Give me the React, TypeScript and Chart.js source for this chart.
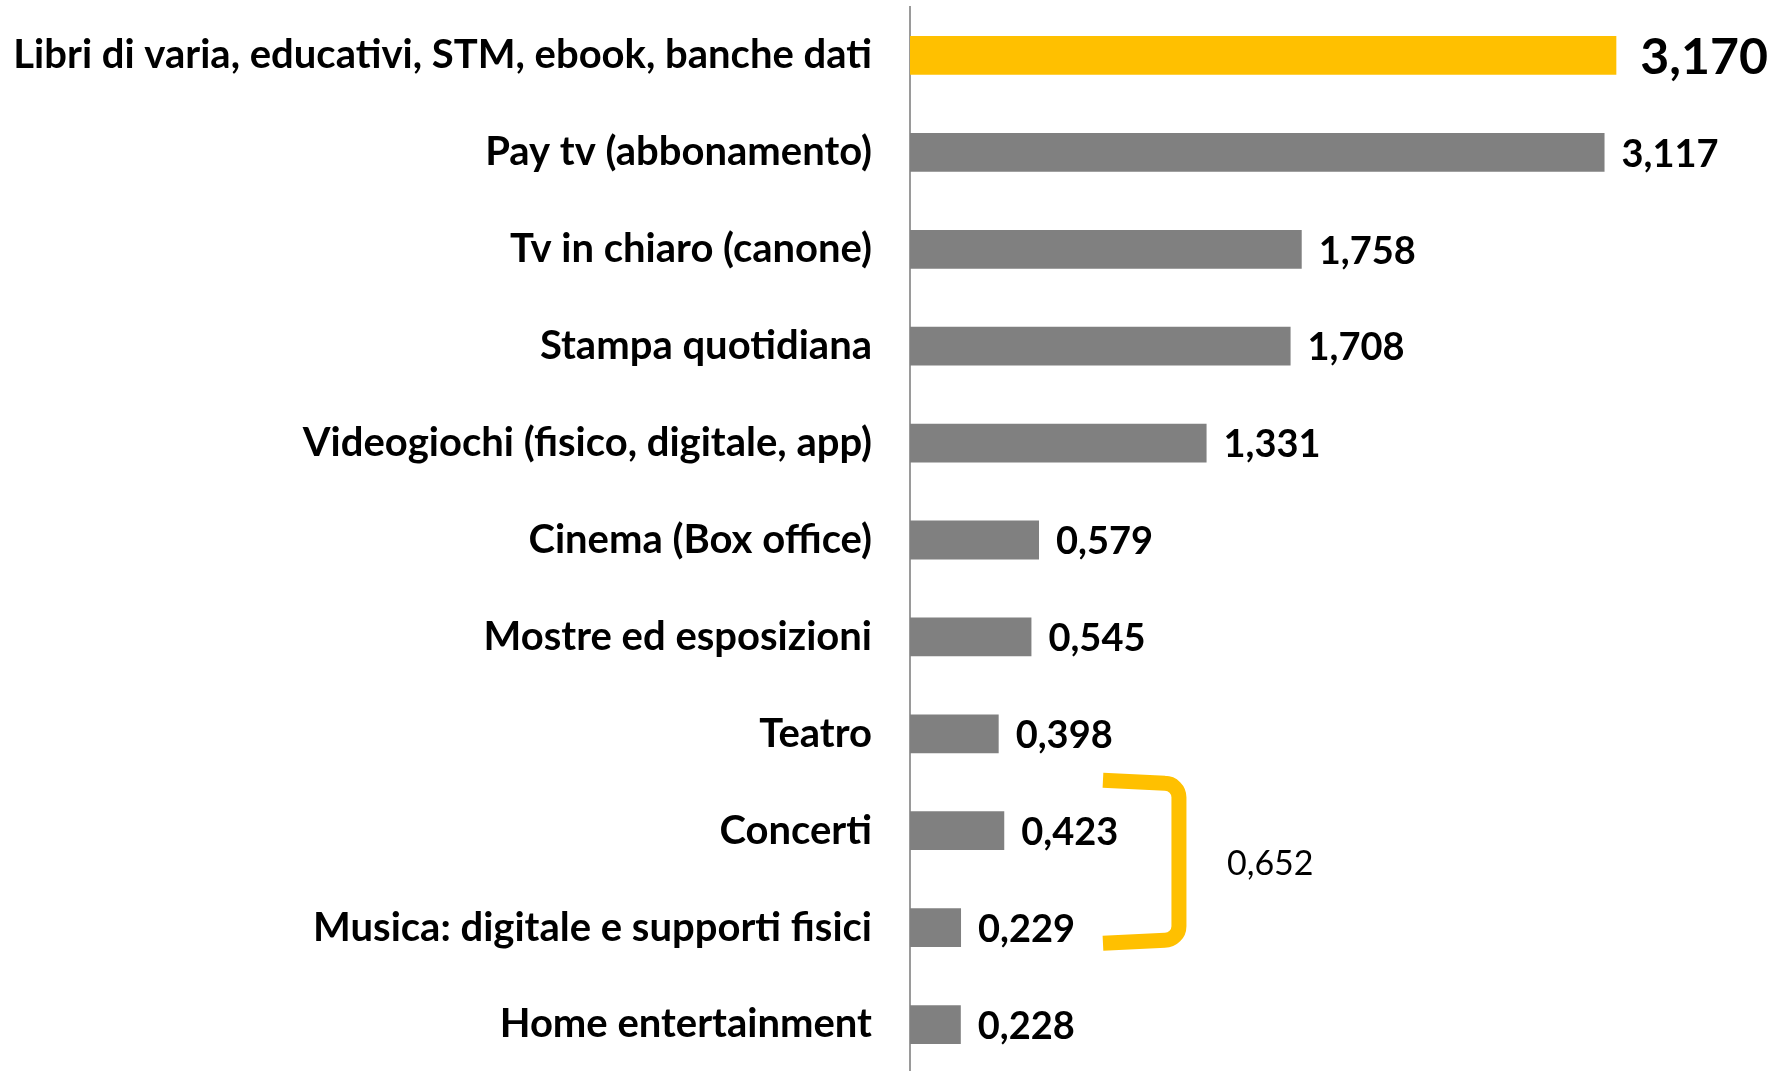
import React, { useEffect, useRef } from "react";
import { Chart, registerables } from "chart.js";

Chart.register(...registerables);

const categories = [
  "Libri di varia, educativi, STM, ebook, banche dati",
  "Pay tv (abbonamento)",
  "Tv in chiaro (canone)",
  "Stampa quotidiana",
  "Videogiochi (fisico, digitale, app)",
  "Cinema (Box office)",
  "Mostre ed esposizioni",
  "Teatro",
  "Concerti",
  "Musica: digitale e supporti fisici",
  "Home entertainment",
];

const values = [3.17, 3.117, 1.758, 1.708, 1.331, 0.579, 0.545, 0.398, 0.423, 0.229, 0.228];

const highlightIndex = 0;
const bracketGroup = [8, 9];
const bracketTotal = 0.652;
const bracketArmFrom = 0.866;
const bracketArmTo = 1.207;
const axisMax = 3.9;

const YELLOW = "#FFC000";
const GRAY = "#808080";
const FONT = "Lato";

const fmt = (v: number) => v.toFixed(3).replace(".", ",");

export default function App() {
  const ref = useRef<HTMLCanvasElement | null>(null);

  useEffect(() => {
    let chart: Chart | null = null;
    let cancelled = false;

    const valueLabelPlugin = {
      id: "valueLabels",
      afterDatasetsDraw(c: any) {
        const ctx = c.ctx;
        const meta = c.getDatasetMeta(0);
        ctx.save();
        ctx.fillStyle = "#000";
        ctx.textBaseline = "middle";
        ctx.textAlign = "left";
        meta.data.forEach((bar: any, i: number) => {
          const big = i === highlightIndex;
          ctx.font = big ? `bold 50px ${FONT}` : `bold 38px ${FONT}`;
          ctx.fillText(fmt(values[i]), bar.x + (big ? 24 : 17), bar.y + 2);
        });
        ctx.restore();
      },
    };

    const bracketPlugin = {
      id: "bracket",
      afterDatasetsDraw(c: any) {
        const ctx = c.ctx;
        const ys = c.scales.y;
        const xs = c.scales.x;
        const band = ys.getPixelForValue(1) - ys.getPixelForValue(0);
        const yTop = ys.getPixelForValue(bracketGroup[0]) - band * 0.52;
        const yBot = ys.getPixelForValue(bracketGroup[1]) + band * 0.16;
        const xl = xs.getPixelForValue(bracketArmFrom);
        const xr = xs.getPixelForValue(bracketArmTo);
        const r = 14;
        ctx.save();
        ctx.strokeStyle = YELLOW;
        ctx.lineWidth = 15;
        ctx.lineCap = "butt";
        ctx.lineJoin = "round";
        ctx.beginPath();
        ctx.moveTo(xl, yTop);
        ctx.lineTo(xr - r, yTop + 3);
        ctx.arcTo(xr, yTop + 3, xr, yTop + 3 + r, r);
        ctx.lineTo(xr, yBot - 3 - r);
        ctx.arcTo(xr, yBot - 3, xr - r, yBot - 3, r);
        ctx.lineTo(xl, yBot);
        ctx.stroke();
        ctx.fillStyle = "#000";
        ctx.font = `34px ${FONT}`;
        ctx.textBaseline = "middle";
        ctx.textAlign = "left";
        ctx.fillText(fmt(bracketTotal), xr + 48, (yTop + yBot) / 2 + 2);
        ctx.restore();
      },
    };

    const make = () => {
      if (cancelled || !ref.current) return;
      chart = new Chart(ref.current, {
        type: "bar",
        data: {
          labels: categories,
          datasets: [
            {
              data: values,
              backgroundColor: values.map((_, i) => (i === highlightIndex ? YELLOW : GRAY)),
              borderWidth: 0,
              barPercentage: 0.4,
              categoryPercentage: 1,
            },
          ],
        },
        options: {
          indexAxis: "y",
          responsive: false,
          animation: false,
          layout: { padding: { top: 7, right: 0, bottom: 0, left: 0 } },
          plugins: { legend: { display: false }, tooltip: { enabled: false } },
          scales: {
            x: { display: false, min: 0, max: axisMax },
            y: {
              type: "category",
              grid: { display: false, drawTicks: false },
              border: { display: true, color: "#9a9a9a", width: 2 },
              ticks: {
                color: "#000",
                padding: 38,
                font: { family: FONT, weight: "bold", size: 40 },
              },
              afterFit(scale: any) {
                scale.width = 910;
                scale.paddingTop = 0;
                scale.paddingBottom = 0;
              },
            },
          },
        },
        plugins: [valueLabelPlugin, bracketPlugin],
      } as any);
    };

    const fontsReady = (document as any).fonts
      ? Promise.all([
          (document as any).fonts.load(`bold 40px ${FONT}`),
          (document as any).fonts.load(`34px ${FONT}`),
        ]).catch(() => null)
      : Promise.resolve();
    fontsReady.then(make);

    return () => {
      cancelled = true;
      if (chart) chart.destroy();
    };
  }, []);

  return (
    <div
      style={{
        position: "fixed",
        left: 0,
        top: 0,
        width: 1779,
        height: 1071,
        overflow: "hidden",
        background: "#fff",
      }}
    >
      <canvas ref={ref} width={1779} height={1073} style={{ display: "block" }} />
    </div>
  );
}
